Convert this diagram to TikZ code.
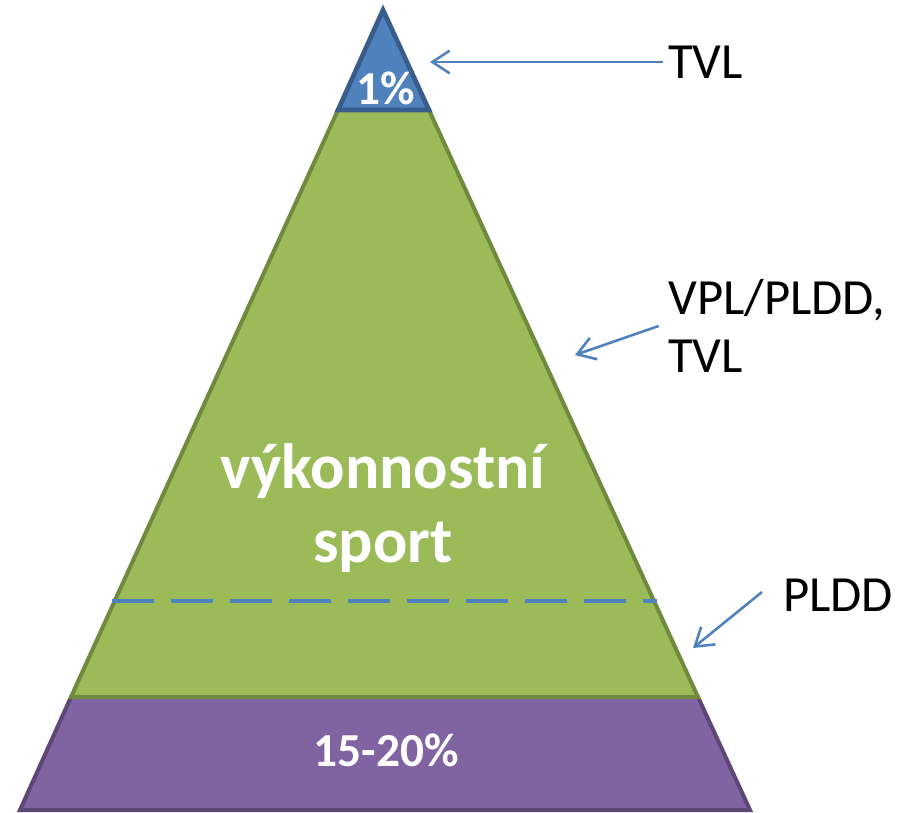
\documentclass[tikz,border=0pt]{standalone}
\usepackage{fontspec}
\setmainfont{Carlito}
\usetikzlibrary{arrows.meta, positioning}

\definecolor{topfill}{HTML}{4F81BD}
\definecolor{topline}{HTML}{385D8A}
\definecolor{midfill}{HTML}{9BBB59}
\definecolor{midline}{HTML}{71893F}
\definecolor{basefill}{HTML}{8064A2}
\definecolor{baseline}{HTML}{5C4776}

\begin{document}
\begin{tikzpicture}[x=0.75pt, y=-0.75pt,
  band/.style={line width=3pt, line join=miter},
  inl/.style={text=white, font=\bfseries\fontsize{35.5}{40}\selectfont, align=center},
  big/.style={text=white, font=\bfseries\fontsize{48}{56}\selectfont, align=center},
  lbl/.style={font=\fontsize{38}{43.5}\selectfont, anchor=west, align=left, inner sep=0pt},
  arr/.style={-{Straight Barb[length=13pt, width=17pt]}, topfill, line width=1.9pt}
]
\useasboundingbox (0,0) rectangle (899,813);

% outline of the whole pyramid
\draw[baseline, line width=1.4pt] (383,10) -- (750,810) -- (20,810) -- cycle;

% bands
\draw[band, fill=basefill, draw=baseline] (71,697) -- (698,697) -- (750,810) -- (20,810) -- cycle;
\draw[band, fill=midfill, draw=midline] (338,110) -- (429,110) -- (698,697) -- (71,697) -- cycle;
\draw[band, fill=topfill, draw=topline, line width=3.5pt] (383,10) -- (429,110) -- (338,110) -- cycle;

\draw[topfill, line width=3.6pt, dash pattern=on 31.5pt off 12.75pt] (112,601) -- (657,601);

\node[inl] (top) at (386,88) {1\%};
\node[big] (mid) at (383,508) {výkonnostní\\sport};
\node[inl] (bot) at (386,750) {15-20\%};

% labels
\node[lbl] (tvl) at (668,62) {TVL};
\node[lbl] (vpl) at (668,326) {VPL/PLDD,\\TVL};
\node[lbl] (pldd) at (783,595) {PLDD};

\coordinate (tipA) at (430,62);
\coordinate (tipB) at (575,355);
\coordinate (tipC) at (693,648);

\draw[arr] ([xshift=-4pt]tvl.west) -- (tipA);
\draw[arr] ([xshift=-7pt]vpl.west) -- (tipB);
\draw[arr] ([shift={(-21,-3)}]pldd.west) -- (tipC);
\end{tikzpicture}
\end{document}
